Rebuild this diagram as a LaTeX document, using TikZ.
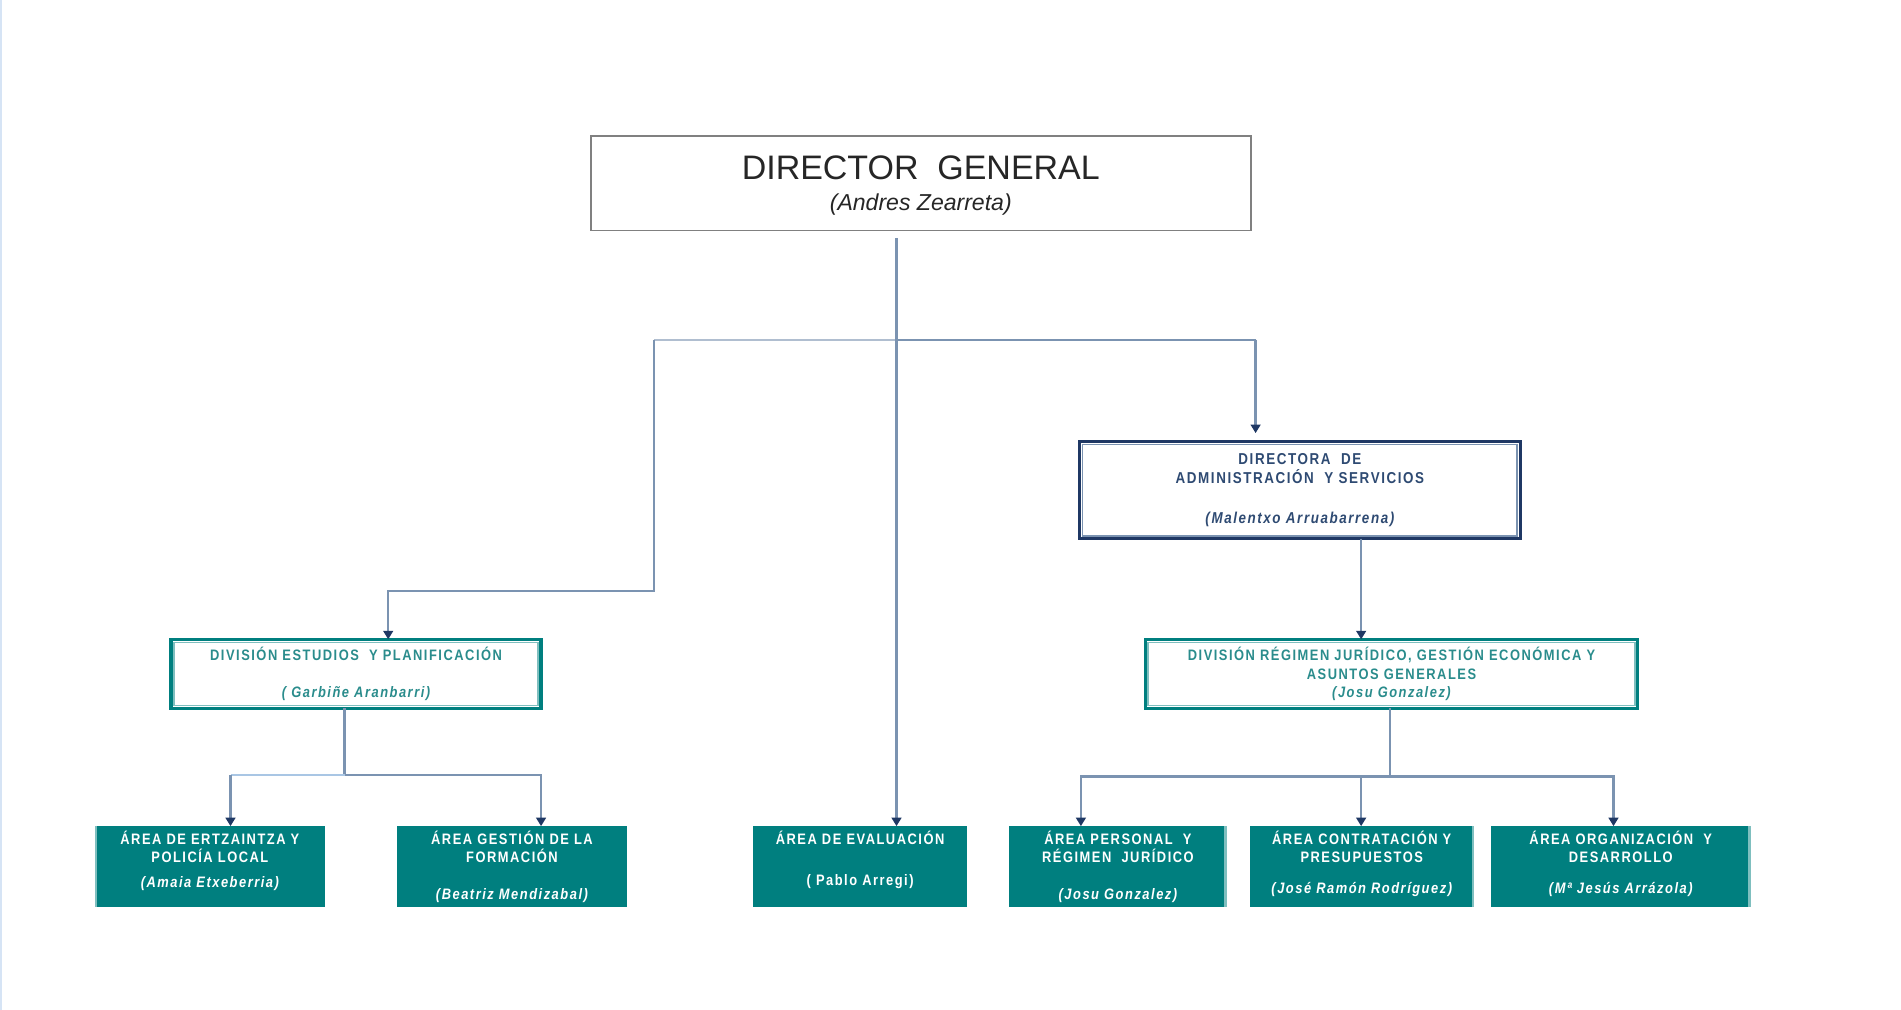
\documentclass[tikz,border=0pt]{standalone}
\usepackage{fontspec}
\setmainfont{Liberation Sans}
\newfontfamily\condfont[FakeStretch=0.85,LetterSpace=10]{Liberation Sans}
\usetikzlibrary{arrows.meta}
\definecolor{teal0}{HTML}{007F7F}
\definecolor{tealL}{HTML}{7FBFBF}
\definecolor{tealtxt}{HTML}{2A8C8C}
\definecolor{conn}{HTML}{7B93B1}
\definecolor{connB}{HTML}{A9C6E4}
\definecolor{navy}{HTML}{1F3864}
\definecolor{navytxt}{HTML}{2E4A72}
\definecolor{dgray}{HTML}{808080}
\definecolor{edgeblue}{HTML}{D6E4F5}
\tikzset{
  boxbase/.style={rectangle, inner sep=0pt, outer sep=0pt, align=center},
  dgbox/.style={boxbase, draw=dgray, line width=1.6pt, minimum width=544pt, minimum height=78pt,
    text=black!85, font=\fontsize{28}{27}\selectfont},
  dasbox/.style={boxbase, draw=navy, line width=2.6pt, minimum width=363pt, minimum height=80pt,
    text=navytxt, font=\condfont\bfseries\fontsize{13}{16}\selectfont},
  divbox/.style={boxbase, draw=teal0, line width=2.8pt, minimum height=57pt,
    text=tealtxt, font=\condfont\bfseries\fontsize{12.5}{15}\selectfont},
  areabox/.style={boxbase, fill=teal0, minimum height=67pt, text=white,
    font=\condfont\bfseries\fontsize{12.5}{15}\selectfont},
  link/.style={draw=conn, line width=1.9pt},
  arr/.style={link, -{Triangle[width=8pt,length=7pt,color=navy]}},
  innerline/.style={line width=1.3pt}
}
\begin{document}
\begin{tikzpicture}[x=1pt,y=1pt]
\useasboundingbox (0,0) rectangle (1567,-832.5);
\draw[edgeblue, line width=1.5pt] (1,0) -- (1,-832.5);

% boxes
\node[dgbox, text depth=0pt] (dg) at (759,-151) {DIRECTOR\ \ GENERAL\\[-1pt]{\fontsize{19}{22}\selectfont\itshape (Andres Zearreta)}};

\node[dasbox] (das) at (1071.5,-404) {DIRECTORA\ \ DE\\ADMINISTRACIÓN\ \ Y SERVICIOS\\[17pt]{\itshape (Malentxo Arruabarrena)}};
\draw[conn, innerline] ([shift={(2.4pt,-2.4pt)}]das.north west) rectangle ([shift={(-2.4pt,2.4pt)}]das.south east);

\node[divbox, minimum width=305pt] (dep) at (293.5,-555.5) {DIVISIÓN ESTUDIOS\ \ Y PLANIFICACIÓN\\[15pt]{\itshape ( Garbiñe Aranbarri)}};
\draw[tealL, innerline] ([shift={(2.5pt,-2.5pt)}]dep.north west) rectangle ([shift={(-2.5pt,2.5pt)}]dep.south east);

\node[divbox, minimum width=406pt] (drj) at (1147,-555.5) {DIVISIÓN RÉGIMEN JURÍDICO, GESTIÓN ECONÓMICA Y\\ASUNTOS GENERALES\\{\itshape (Josu Gonzalez)}};
\draw[tealL, innerline] ([shift={(2.5pt,-2.5pt)}]drj.north west) rectangle ([shift={(-2.5pt,2.5pt)}]drj.south east);

\node[areabox, minimum width=190pt, text depth=12.6pt] (a1) at (173,-714.5) {ÁREA DE ERTZAINTZA Y\\POLICÍA LOCAL\\[6pt]{\itshape (Amaia Etxeberria)}};
\node[areabox, minimum width=190pt] (a2) at (422,-714.5) {ÁREA GESTIÓN DE LA\\FORMACIÓN\\[16pt]{\itshape (Beatriz Mendizabal)}};
\node[areabox, minimum width=176pt, text depth=14.6pt] (a3) at (709,-714.5) {ÁREA DE EVALUACIÓN\\[19pt]( Pablo Arregi)};
\node[areabox, minimum width=179pt] (a4) at (921.5,-714.5) {ÁREA PERSONAL\ \ Y\\RÉGIMEN\ \ JURÍDICO\\[16pt]{\itshape (Josu Gonzalez)}};
\node[areabox, minimum width=185pt, text depth=7.6pt] (a5) at (1122.5,-714.5) {ÁREA CONTRATACIÓN Y\\PRESUPUESTOS\\[11pt]{\itshape (José Ramón Rodríguez)}};
\node[areabox, minimum width=214pt, text depth=7.6pt] (a6) at (1336,-714.5) {ÁREA ORGANIZACIÓN\ \ Y\\DESARROLLO\\[11pt]{\itshape (Mª Jesús Arrázola)}};

\draw[tealL, line width=2pt] ([xshift=1pt]a1.north west) -- ([xshift=1pt]a1.south west);
\foreach \b in {a4,a5,a6}{
  \draw[tealL, line width=2pt] ([xshift=-1pt]\b.north east) -- ([xshift=-1pt]\b.south east);
}

% connector anchors
\coordinate (busL) at (539,-280);
\coordinate (busR) at (1035,-280);
\coordinate (trunk) at (739,-280);
\coordinate (kL) at (320,-487);
\coordinate (k2) at (1122,0);
\coordinate (hubE) at (284,-639);
\coordinate (xa1) at (190,0);
\coordinate (xa2) at (446,0);
\coordinate (hubR) at (1146,-640);
\coordinate (xa4) at (891,0);
\coordinate (xa5) at (1122,0);
\coordinate (xa6) at (1330,0);

% top level
\draw[link, draw=conn!60] (busL) -- (trunk);
\draw[link] (trunk) -- (busR);
\draw[arr, shorten <=6pt] (dg.south -| trunk) -- (a3.north -| trunk);
\draw[arr] (busL) |- (kL) -- (kL |- dep.north);
\draw[arr, shorten >=7pt] (busR) -- (busR |- das.north);
\draw[arr] (das.south -| k2) -- (drj.north -| k2);

% estudios branch
\draw[link] (dep.south -| hubE) -- (hubE);
\draw[link, draw=connB] (hubE) -- (hubE -| xa1);
\draw[arr] (hubE -| xa1) -- (a1.north -| xa1);
\draw[arr] (hubE) -| (a2.north -| xa2);

% regimen branch
\draw[link] (drj.south -| hubR) -- (hubR);
\draw[arr] (hubR) -| (a4.north -| xa4);
\draw[arr] (hubR -| xa5) -- (a5.north -| xa5);
\draw[arr] (hubR) -| (a6.north -| xa6);
\end{tikzpicture}
\end{document}
